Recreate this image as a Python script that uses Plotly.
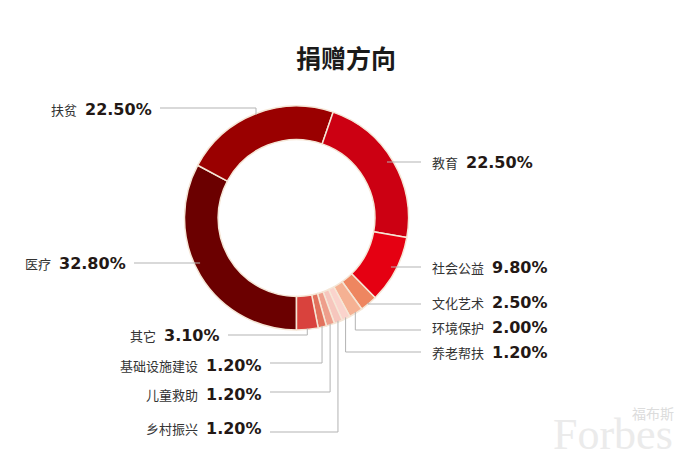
import math
import plotly.graph_objects as go

# ---------------- data ----------------
categories = ["医疗", "扶贫", "教育", "社会公益", "文化艺术", "环境保护",
              "养老帮扶", "乡村振兴", "儿童救助", "基础设施建设", "其它"]
shares = [32.8, 22.5, 22.5, 9.8, 2.5, 2.0, 1.2, 1.2, 1.2, 1.2, 3.1]
pct_labels = ["32.80%", "22.50%", "22.50%", "9.80%", "2.50%", "2.00%",
              "1.20%", "1.20%", "1.20%", "1.20%", "3.10%"]
colors = ["#6b0000", "#9a0000", "#cc0012", "#e50012", "#ee8660", "#f5b193",
          "#fad3cc", "#f6c6bd", "#ee9e8b", "#e2725d", "#d9423d"]

# ---------------- layout ----------------
W, H = 700, 464
dom_px_x = (184, 409)
dom_px_y = (106, 330)
rotation = 180

# label layout: side, line y, text y, line outer end x, elbow or horizontal
label_side = ["L", "L", "R", "R", "R", "R", "R", "L", "L", "L", "L"]
line_y = [263, 108, 162, 267, 304, 330, 352, 432, 392, 363, 335]
text_y = [263, 109, 162, 267, 302, 327, 352, 428, 394, 365, 335]
line_x = [134, 160, 421, 421, 421, 421, 421, 270, 270, 270, 228]
elbow = [False, True, False, False, True, True, True, True, True, True, True]


def px(x):
    return x / W


def py(y):
    return 1 - y / H


cx = (dom_px_x[0] + dom_px_x[1]) / 2
cy = (dom_px_y[0] + dom_px_y[1]) / 2
R = min(dom_px_x[1] - dom_px_x[0], dom_px_y[1] - dom_px_y[0]) / 2

fig = go.Figure(go.Pie(
    labels=categories, values=shares, sort=False, direction="clockwise",
    rotation=rotation, hole=0.70, textinfo="none", hoverinfo="none",
    marker=dict(colors=colors, line=dict(color="#f5e6d6", width=1.5)),
    domain=dict(x=[px(dom_px_x[0]), px(dom_px_x[1])],
                y=[py(dom_px_y[1]), py(dom_px_y[0])]),
    showlegend=False,
))

total = sum(shares)
cum = 0.0
shapes = []
annotations = []
for i, v in enumerate(shares):
    mid = math.radians(rotation + (cum + v / 2) / total * 360)
    cum += v
    ly = line_y[i]
    if elbow[i]:
        ax = cx + R * 0.99 * math.sin(mid)
        ay = cy - R * 0.99 * math.cos(mid)
        path = f"M {px(ax)},{py(ay)} L {px(ax)},{py(ly)} L {px(line_x[i])},{py(ly)}"
    else:
        r = 0.95 * R
        dx = math.sqrt(max(r * r - (ly - cy) ** 2, 0))
        ex = cx + dx if label_side[i] == "R" else cx - dx
        path = f"M {px(ex)},{py(ly)} L {px(line_x[i])},{py(ly)}"
    shapes.append(dict(type="path", path=path, xref="paper", yref="paper",
                       line=dict(color="#b3b3b3", width=1), layer="above"))
    txt = (f"<span style=\"font-size:13px;color:#333333\">{categories[i]}</span>"
           f"<span style=\"font-family:'DejaVu Sans';font-size:16px;font-weight:bold;color:#231815\">"
           f"\u2002{pct_labels[i]}</span>")
    if label_side[i] == "R":
        annotations.append(dict(x=px(line_x[i] + 9), y=py(text_y[i]), xref="paper", yref="paper",
                                xanchor="left", yanchor="middle", text=txt, showarrow=False))
    else:
        annotations.append(dict(x=px(line_x[i] - 6), y=py(text_y[i]), xref="paper", yref="paper",
                                xanchor="right", yanchor="middle", text=txt, showarrow=False))

# title
annotations.append(dict(x=px(346), y=py(57), xref="paper", yref="paper", xanchor="center",
                        yanchor="middle", text="<b>捐赠方向</b>", showarrow=False,
                        font=dict(size=25, color="#1a1a1a", family="Noto Sans CJK SC")))
# watermark
annotations.append(dict(x=px(551), y=py(434), xref="paper", yref="paper", xanchor="left",
                        yanchor="middle", text="Forbes", showarrow=False,
                        font=dict(size=44, color="#ebebeb", family="Liberation Serif")))
annotations.append(dict(x=px(630), y=py(413), xref="paper", yref="paper", xanchor="left",
                        yanchor="middle", text="福布斯", showarrow=False,
                        font=dict(size=14, color="#dcdcdc", family="Noto Sans CJK SC")))

fig.update_layout(
    width=W, height=H, margin=dict(l=0, r=0, t=0, b=0),
    paper_bgcolor="white", plot_bgcolor="white",
    font=dict(family="Noto Sans CJK SC", size=13, color="#333333"),
    shapes=shapes, annotations=annotations,
)

fig.write_html("out.html", config={"displayModeBar": False},
               post_script="document.body.style.margin='0';document.body.style.overflow='hidden';")
